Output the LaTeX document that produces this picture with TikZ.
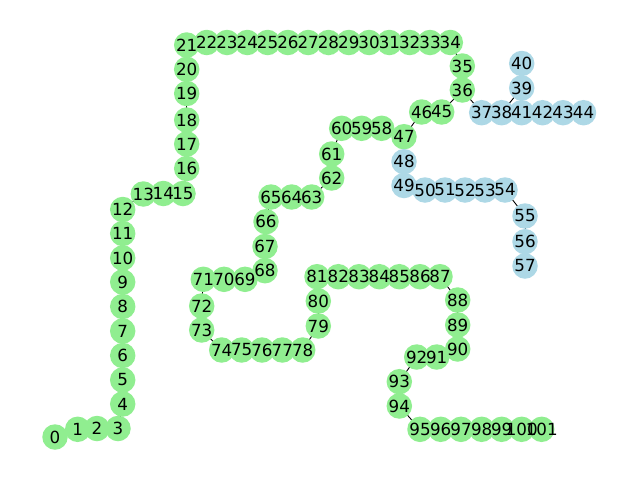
\documentclass[tikz,border=0pt]{standalone}
\usepackage{fontspec}
\setmainfont{DejaVu Sans}
\usepackage{tikz}
\usetikzlibrary{backgrounds}
\definecolor{leafgreen}{HTML}{90EE90}
\definecolor{leafblue}{HTML}{ADD8E6}

\tikzset{
  vert/.style={circle, fill=#1, minimum size=25.5pt, inner sep=0pt},
  vlabel/.style={inner sep=0pt, font=\fontsize{16.7}{20}\selectfont},
  link/.style={draw=black, line width=0.9pt}
}

\begin{document}
\begin{tikzpicture}[x=1pt, y=-1pt]
        \useasboundingbox (0,0) rectangle (640,480);
        \foreach \i/\x/\y/\c in {0/55/437/leafgreen, 1/77.7/429.3/leafgreen, 2/97/428.5/leafgreen, 3/118/428.5/leafgreen,
            4/122.7/404/leafgreen, 5/122.7/380/leafgreen, 6/122.7/355.5/leafgreen, 7/122.7/331/leafgreen,
            8/122.7/306.5/leafgreen, 9/122.7/282/leafgreen, 10/122.7/258/leafgreen, 11/122.7/233.5/leafgreen,
            12/122.7/209.5/leafgreen, 13/143.3/194/leafgreen, 14/163.3/193.5/leafgreen, 15/183/193.5/leafgreen,
            16/186.7/168.5/leafgreen, 17/186.7/144/leafgreen, 18/186.7/120/leafgreen, 19/186.7/93.5/leafgreen,
            20/186.7/69.3/leafgreen, 21/186.7/45/leafgreen, 22/206.7/42.5/leafgreen, 23/227/42.5/leafgreen,
            24/247.3/42.5/leafgreen, 25/267.6/42.5/leafgreen, 26/287.9/42.5/leafgreen, 27/308.2/42.5/leafgreen,
            28/328.5/42.5/leafgreen, 29/348.8/42.5/leafgreen, 30/369.1/42.5/leafgreen, 31/389.4/42.5/leafgreen,
            32/409.7/42.5/leafgreen, 33/430/42.5/leafgreen, 34/450.3/42.5/leafgreen, 35/462.3/66/leafgreen,
            36/462.3/90/leafgreen, 37/481.7/112.7/leafblue, 38/501.7/112.7/leafblue, 39/521.7/88/leafblue,
            40/521.7/63.5/leafblue, 41/521.7/112.7/leafblue, 42/542.5/112.7/leafblue, 43/563/112.7/leafblue,
            44/583.5/112.7/leafblue, 45/441.7/112/leafgreen, 46/421.7/112/leafgreen, 47/404/136.7/leafgreen,
            48/404/161.7/leafblue, 49/404/185.5/leafblue, 50/425/190/leafblue, 51/445/190/leafblue,
            52/465/190/leafblue, 53/485/190/leafblue, 54/505/190/leafblue, 55/525/216/leafblue,
            56/525/241.7/leafblue, 57/525/266/leafblue, 58/381.7/128.3/leafgreen, 59/361.7/128.3/leafgreen,
            60/341.7/128.3/leafgreen, 61/331.7/154/leafgreen, 62/331.7/178/leafgreen, 63/311.7/197/leafgreen,
            64/291.7/197/leafgreen, 65/271/197/leafgreen, 66/266/221.7/leafgreen, 67/265/246.5/leafgreen,
            68/265/270.7/leafgreen, 69/245/279.3/leafgreen, 70/224/279.3/leafgreen, 71/203.3/279.3/leafgreen,
            72/201.7/306/leafgreen, 73/201.7/330/leafgreen, 74/221.7/350/leafgreen, 75/241.7/350/leafgreen,
            76/262/350/leafgreen, 77/282.3/350/leafgreen, 78/302.7/350/leafgreen, 79/318.3/326/leafgreen,
            80/318.3/301/leafgreen, 81/317/276.7/leafgreen, 82/338.3/276.7/leafgreen, 83/359/276.7/leafgreen,
            84/379.3/276.7/leafgreen, 85/399.3/276.7/leafgreen, 86/420/276.7/leafgreen, 87/440/276.7/leafgreen,
            88/457.7/300/leafgreen, 89/457.7/325/leafgreen, 90/457.7/349/leafgreen, 91/436.7/357/leafgreen,
            92/416.7/357/leafgreen, 93/399.3/381.7/leafgreen, 94/399.3/406/leafgreen, 95/420/429.3/leafgreen,
            96/440.7/429.3/leafgreen, 97/461/429.3/leafgreen, 98/481.7/429.3/leafgreen, 99/501.7/429.3/leafgreen,
            100/521.7/429.3/leafgreen, 101/541.7/429.3/leafgreen}
            \node[vert=\c] (n\i) at (\x,\y) {};

        \foreach \i in {0,...,101}
            \node[vlabel] (l\i) at (n\i.center) {\i};

        \begin{scope}[on background layer]
        \foreach \a/\b in {36/37, 37/38, 38/39, 39/40, 38/41, 36/45, 45/46, 46/47, 47/48, 47/58}
            \draw[link] (n\a.center) -- (n\b.center);
        \foreach \a in {0,...,35}
            \draw[link] (n\a.center) -- (n\the\numexpr\a+1\relax.center);
        \foreach \a in {41,42,43,48,49,...,56,58,59,...,100}
            \draw[link] (n\a.center) -- (n\the\numexpr\a+1\relax.center);
        \end{scope}
\end{tikzpicture}
\end{document}
